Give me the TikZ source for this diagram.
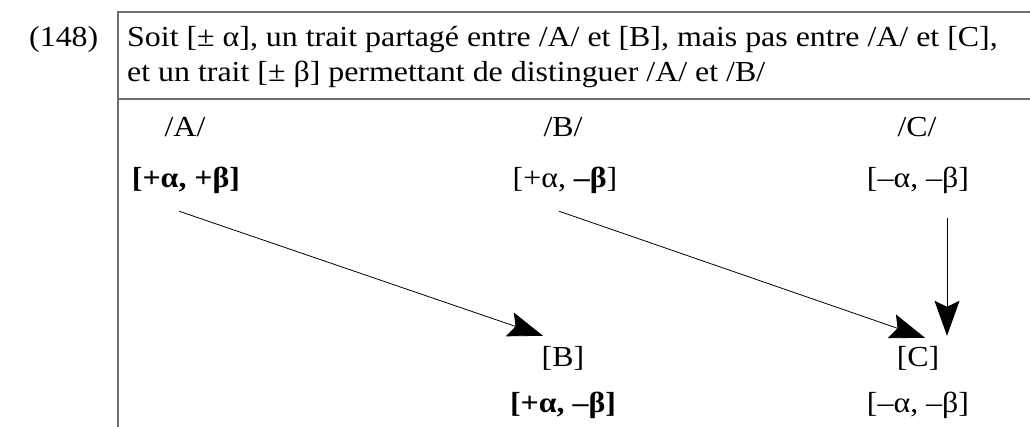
\documentclass[tikz,border=0pt]{standalone}
\usepackage{fontspec}
\setmainfont[FakeStretch=1.1]{Liberation Serif}
\usetikzlibrary{arrows.meta}
\definecolor{rule}{HTML}{6E6E6E}
\tikzset{
  txt/.style={anchor=base, inner sep=0pt, text height=0.7em, text depth=0.2em},
  frame/.style={draw=rule, line width=1.3pt},
  derive/.style={-{Stealth[length=35pt, width=25pt, inset=6pt]}, line width=0.8pt},
}

\begin{document}
\begin{tikzpicture}[x=1pt,y=1pt,font=\fontsize{29}{35}\selectfont]
  \useasboundingbox (0,0) rectangle (1030,-427);
  \draw[frame] (1030,-12) -- (118,-12) -- (118,-427);
  \draw[frame] (118,-99) -- (1030,-99);
  \node[txt, anchor=base west] (num) at (29,-47) {(148)};
  \node[txt, anchor=base west] (head1) at (127,-47) {Soit [± α], un trait partagé entre /A/ et [B], mais pas entre /A/ et [C],};
  \node[txt, anchor=base west] (head2) at (127,-82) {et un trait [± β] permettant de distinguer /A/ et /B/};
  \node[txt] (phA) at (185,-137) {/A/};
  \node[txt] (phB) at (563,-137) {/B/};
  \node[txt] (phC) at (917,-137) {/C/};
  \node[txt] (featA) at (186,-188) {\textbf{[+α, +β]}};
  \node[txt] (featB) at (565,-188) {[+α, \textbf{–β}]};
  \node[txt] (featC) at (918,-188) {[–α, –β]};
  \node[txt] (allB) at (563,-366) {[B]};
  \node[txt] (allC) at (918,-366) {[C]};
  \node[txt] (featBB) at (563,-412) {\textbf{[+α, –β]}};
  \node[txt] (featCC) at (918,-412) {[–α, –β]};
  \draw[derive] ([shift={(-7,-21)}]featA.south) -- ([shift={(-20,23)}]allB.north);
  \draw[derive] ([shift={(-6,-21)}]featB.south) -- ([shift={(7,21)}]allC.north);
  \draw[derive] ([shift={(29,-28)}]featC.south) -- ([shift={(29,23)}]allC.north);
\end{tikzpicture}
\end{document}
